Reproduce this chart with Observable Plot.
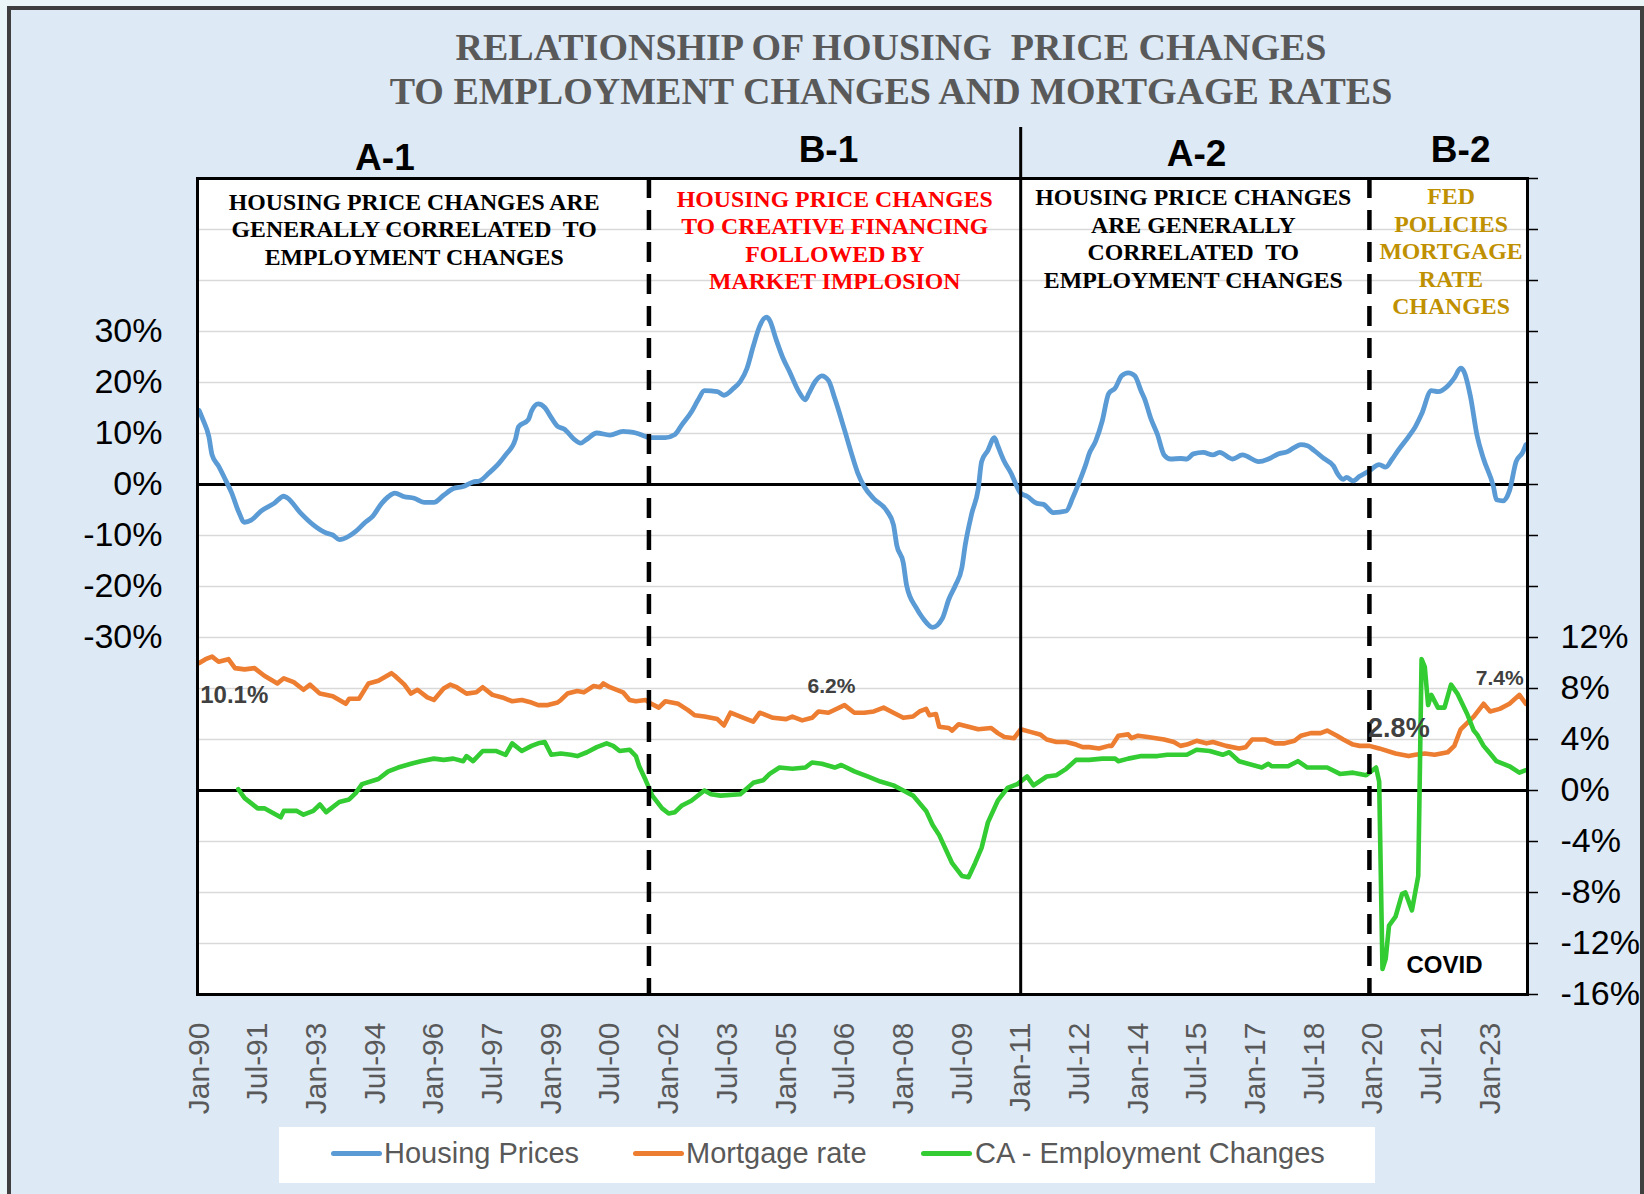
<!DOCTYPE html>
<html>
<head>
<meta charset="utf-8">
<script src="https://cdn.jsdelivr.net/npm/d3@7"></script>
<script src="https://cdn.jsdelivr.net/npm/@observablehq/plot@0.6"></script>
<style>
html,body{margin:0;padding:0;background:#eaf6f7;}
#page{position:relative;width:1644px;height:1194px;overflow:hidden;}
#panel{position:absolute;left:7px;top:6px;width:1637px;height:1220px;background:#dde9f5;border:4px solid #3f3f3f;box-sizing:border-box;}
.title{position:absolute;left:291px;width:1200px;text-align:center;font-family:"Liberation Serif","Times New Roman",serif;font-weight:bold;font-size:38px;line-height:44px;color:#595959;white-space:nowrap;}
#chart{position:absolute;left:0;top:0;}
#legend{position:absolute;left:279px;top:1127px;width:1096px;height:56px;background:#ffffff;}
.sw{position:absolute;top:24px;height:5px;border-radius:3px;}
.lt{position:absolute;top:-2px;line-height:56px;font-family:"Liberation Sans",Arial,sans-serif;font-size:29px;color:#595959;white-space:nowrap;}
</style>
</head>
<body>
<div id="page">
  <div id="panel"></div>
  <div class="title" style="top:25px">RELATIONSHIP OF HOUSING&nbsp; PRICE CHANGES</div>
  <div class="title" style="top:69px">TO EMPLOYMENT CHANGES AND MORTGAGE RATES</div>
  <div id="chart"></div>
  <div id="legend"></div>
</div>
<script>
// ---------- DATA ----------
const housingPrices = [
["1990-01",14.5],["1990-02",12.9],["1990-04",9.4],["1990-05",5.8],["1990-07",3.6],["1990-09",1.0],["1990-11",-1.7],
["1991-01",-5.2],["1991-03",-7.4],["1991-05",-7.0],["1991-08",-5.2],["1991-12",-3.7],["1992-03",-2.3],["1992-04",-2.6],
["1992-08",-5.5],["1992-12",-7.9],["1993-04",-9.5],["1993-06",-9.9],["1993-08",-10.8],["1993-11",-10.1],["1994-01",-9.2],
["1994-04",-7.4],["1994-06",-6.4],["1994-09",-3.7],["1994-11",-2.4],["1995-01",-1.7],["1995-04",-2.4],["1995-07",-2.7],
["1995-10",-3.5],["1996-01",-3.5],["1996-04",-2.1],["1996-07",-0.8],["1996-10",-0.4],["1997-01",0.5],["1997-03",0.7],
["1997-06",2.3],["1997-09",4.2],["1997-11",5.8],["1998-02",8.9],["1998-03",11.3],["1998-06",12.7],["1998-07",14.4],
["1998-09",15.8],["1998-11",15.1],["1999-01",13.1],["1999-03",11.4],["1999-05",10.9],["1999-08",8.9],["1999-10",8.1],
["1999-12",8.9],["2000-03",10.1],["2000-07",9.7],["2000-11",10.4],["2001-01",10.3],["2001-03",10.1],["2001-06",9.4],
["2001-07",9.2],["2001-12",9.2],["2002-03",9.8],["2002-05",11.6],["2002-08",14.2],["2002-10",16.5],["2002-12",18.4],
["2003-04",18.2],["2003-06",17.5],["2003-09",18.9],["2003-11",20.2],["2004-01",22.7],["2004-03",27.1],["2004-05",31.1],
["2004-07",32.8],["2004-08",32.2],["2004-10",28.4],["2004-12",24.9],["2005-02",22.2],["2005-05",18.2],["2005-07",16.6],
["2005-08",17.8],["2005-10",20.2],["2005-12",21.3],["2006-02",20.4],["2006-04",16.9],["2006-07",10.7],["2006-09",6.3],
["2006-11",2.3],["2007-01",-0.4],["2007-04",-2.8],["2007-08",-5.2],["2007-10",-7.9],["2007-11",-11.9],["2008-01",-15.4],
["2008-02",-19.8],["2008-05",-24.2],["2008-07",-26.2],["2008-10",-28.0],["2009-01",-26.2],["2009-03",-22.5],["2009-05",-19.8],
["2009-07",-16.3],["2009-08",-11.9],["2009-10",-5.7],["2009-12",-0.8],["2010-01",4.5],["2010-03",6.7],["2010-05",9.2],
["2010-06",7.6],["2010-08",4.5],["2010-10",2.3],["2011-01",-1.7],["2011-03",-2.3],["2011-06",-3.7],["2011-08",-3.9],
["2011-11",-5.5],["2012-03",-5.2],["2012-05",-2.6],["2012-07",0.5],["2012-09",4.0],["2012-10",6.0],["2012-12",8.5],
["2013-02",12.5],["2013-04",17.8],["2013-06",18.9],["2013-08",21.3],["2013-10",21.9],["2013-12",21.3],["2014-02",18.2],
["2014-03",16.9],["2014-05",12.9],["2014-07",9.8],["2014-09",5.8],["2014-11",5.0],["2015-02",5.1],["2015-04",5.0],
["2015-06",6.0],["2015-09",6.3],["2015-12",5.8],["2016-02",6.3],["2016-06",5.0],["2016-09",5.8],["2017-02",4.5],
["2017-05",5.0],["2017-08",6.0],["2017-11",6.5],["2018-01",7.3],["2018-03",7.8],["2018-05",7.6],["2018-07",6.7],
["2018-10",5.1],["2019-01",3.6],["2019-02",2.3],["2019-04",1.0],["2019-05",1.4],["2019-07",0.7],["2019-09",1.6],
["2019-12",2.7],["2020-03",3.9],["2020-05",3.4],["2020-07",5.0],["2020-09",6.9],["2020-12",9.4],["2021-02",11.3],
["2021-04",13.8],["2021-07",18.4],["2021-09",18.2],["2021-12",19.3],["2022-02",20.9],["2022-04",22.8],["2022-05",22.2],
["2022-07",17.3],["2022-09",9.6],["2022-11",5.0],["2023-02",-0.4],["2023-03",-3.0],["2023-05",-3.2],["2023-07",-1.2],
["2023-09",4.5],["2023-11",6.3],["2023-12",7.8]
];
const mortgageRate = [
["1990-01",10.0],["1990-03",10.3],["1990-05",10.5],["1990-07",10.1],["1990-10",10.3],["1990-12",9.6],["1991-03",9.5],
["1991-06",9.6],["1991-09",9.0],["1992-01",8.4],["1992-03",8.8],["1992-06",8.5],["1992-09",7.9],["1992-11",8.3],
["1993-02",7.6],["1993-06",7.4],["1993-10",6.8],["1993-11",7.2],["1994-02",7.2],["1994-05",8.4],["1994-08",8.6],
["1994-10",8.9],["1994-12",9.2],["1995-01",9.0],["1995-04",8.3],["1995-06",7.6],["1995-08",7.9],["1995-11",7.3],
["1996-01",7.1],["1996-04",8.0],["1996-06",8.3],["1996-08",8.1],["1996-11",7.6],["1997-02",7.7],["1997-04",8.1],
["1997-07",7.5],["1997-10",7.3],["1998-01",7.0],["1998-04",7.1],["1998-07",6.9],["1998-09",6.7],["1998-12",6.7],
["1999-03",6.9],["1999-04",7.1],["1999-06",7.6],["1999-09",7.8],["1999-11",7.7],["2000-02",8.2],["2000-04",8.1],
["2000-05",8.4],["2000-07",8.1],["2000-11",7.7],["2001-01",7.1],["2001-03",7.0],["2001-06",7.1],["2001-07",6.9],
["2001-10",6.5],["2001-12",7.0],["2002-04",6.8],["2002-07",6.3],["2002-09",5.9],["2002-12",5.8],["2003-04",5.6],
["2003-06",5.1],["2003-08",6.1],["2003-12",5.7],["2004-03",5.4],["2004-05",6.1],["2004-09",5.7],["2005-01",5.6],
["2005-03",5.8],["2005-06",5.5],["2005-09",5.7],["2005-11",6.2],["2006-02",6.1],["2006-07",6.7],["2006-10",6.1],
["2007-01",6.1],["2007-04",6.2],["2007-07",6.5],["2007-10",6.1],["2008-01",5.7],["2008-04",5.8],["2008-06",6.2],
["2008-08",6.4],["2008-09",5.9],["2008-11",6.0],["2008-12",5.0],["2009-03",4.9],["2009-04",4.7],["2009-06",5.2],
["2009-09",5.0],["2009-12",4.8],["2010-04",4.9],["2010-06",4.5],["2010-08",4.2],["2010-11",4.1],["2011-01",4.8],
["2011-04",4.6],["2011-07",4.4],["2011-09",4.0],["2011-12",3.8],["2012-03",3.8],["2012-06",3.6],["2012-08",3.4],
["2012-10",3.4],["2013-01",3.3],["2013-04",3.5],["2013-05",3.5],["2013-07",4.3],["2013-10",4.4],["2013-11",4.1],
["2014-01",4.3],["2014-04",4.2],["2014-09",4.0],["2014-12",3.8],["2015-02",3.5],["2015-04",3.6],["2015-07",3.9],
["2015-10",3.7],["2015-12",3.8],["2016-04",3.5],["2016-08",3.3],["2016-10",3.4],["2016-12",4.0],["2017-04",4.0],
["2017-07",3.7],["2017-10",3.7],["2018-01",3.9],["2018-03",4.3],["2018-06",4.5],["2018-09",4.5],["2018-11",4.7],
["2019-02",4.3],["2019-04",4.0],["2019-07",3.6],["2019-09",3.5],["2019-12",3.5],["2020-03",3.3],["2020-08",2.9],
["2020-12",2.7],["2021-02",2.8],["2021-05",2.9],["2021-08",2.8],["2021-12",3.0],["2022-02",3.5],["2022-04",4.8],
["2022-08",5.8],["2022-11",6.8],["2023-01",6.2],["2023-04",6.4],["2023-07",6.8],["2023-10",7.5],["2023-12",6.8]
];
const employmentChanges = [
["1991-01",0.1],["1991-03",-0.6],["1991-07",-1.4],["1991-09",-1.4],["1992-02",-2.1],["1992-03",-1.6],["1992-07",-1.6],
["1992-09",-1.9],["1992-12",-1.6],["1993-02",-1.1],["1993-04",-1.7],["1993-08",-0.9],["1993-11",-0.7],["1994-01",-0.2],
["1994-03",0.5],["1994-08",0.9],["1994-11",1.5],["1995-02",1.8],["1995-06",2.1],["1995-09",2.3],["1996-01",2.5],
["1996-04",2.4],["1996-07",2.5],["1996-10",2.3],["1996-11",2.7],["1997-01",2.3],["1997-04",3.1],["1997-08",3.1],
["1997-11",2.8],["1998-01",3.7],["1998-04",3.1],["1998-07",3.5],["1998-09",3.7],["1998-11",3.8],["1999-01",2.8],
["1999-04",2.9],["1999-07",2.8],["1999-09",2.7],["1999-12",3.0],["2000-03",3.4],["2000-06",3.7],["2000-08",3.5],
["2000-10",3.1],["2001-01",3.2],["2001-03",2.7],["2001-04",1.9],["2001-06",0.8],["2001-08",-0.4],["2001-11",-1.4],
["2002-01",-1.8],["2002-03",-1.7],["2002-05",-1.2],["2002-08",-0.8],["2002-12",0.0],["2003-02",-0.3],["2003-05",-0.4],
["2003-11",-0.3],["2004-03",0.6],["2004-06",0.8],["2004-08",1.3],["2004-11",1.8],["2005-03",1.7],["2005-07",1.8],
["2005-09",2.2],["2005-12",2.1],["2006-04",1.8],["2006-06",2.0],["2006-10",1.5],["2007-02",1.1],["2007-06",0.7],
["2007-10",0.4],["2008-01",0.0],["2008-04",-0.4],["2008-08",-1.6],["2008-10",-2.7],["2008-12",-3.5],["2009-04",-5.7],
["2009-07",-6.7],["2009-09",-6.8],["2009-11",-5.7],["2010-01",-4.5],["2010-03",-2.5],["2010-06",-0.8],["2010-09",0.2],
["2010-12",0.5],["2011-03",1.1],["2011-05",0.4],["2011-09",1.1],["2011-12",1.2],["2012-03",1.7],["2012-06",2.4],
["2012-10",2.4],["2013-02",2.5],["2013-06",2.5],["2013-07",2.3],["2013-10",2.5],["2014-02",2.7],["2014-07",2.7],
["2014-10",2.8],["2015-04",2.8],["2015-07",3.2],["2015-11",3.1],["2016-03",2.8],["2016-05",3.0],["2016-08",2.3],
["2017-03",1.8],["2017-05",2.1],["2017-06",1.9],["2017-11",1.9],["2018-02",2.3],["2018-05",1.8],["2018-11",1.8],
["2019-03",1.3],["2019-07",1.4],["2019-11",1.2],["2020-02",1.8],["2020-03",0.7],["2020-04",-14.0],["2020-05",-13.2],
["2020-06",-10.6],["2020-08",-9.9],["2020-10",-8.1],["2020-11",-8.0],["2021-01",-9.4],["2021-03",-6.7],["2021-04",10.3],
["2021-05",9.7],["2021-06",6.7],["2021-07",7.5],["2021-09",6.5],["2021-11",6.5],["2022-01",8.3],["2022-03",7.6],
["2022-06",6.0],["2022-08",4.7],["2022-09",4.4],["2022-11",3.5],["2023-01",2.9],["2023-03",2.3],["2023-07",1.9],
["2023-10",1.4],["2023-12",1.6]
];
const xTickDates = ["1990-01","1991-07","1993-01","1994-07","1996-01","1997-07","1999-01","2000-07","2002-01","2003-07",
  "2005-01","2006-07","2008-01","2009-07","2011-01","2012-07","2014-01","2015-07","2017-01","2018-07","2020-01","2021-07","2023-01"];
const leftTicks = [-30,-20,-10,0,10,20,30];
const rightTicks = [-16,-12,-8,-4,0,4,8,12];
const seriesNames = ["Housing Prices","Mortgage rate","CA - Employment Changes"];
const seriesColors = ["#5b9bd5","#ed7d31","#33cc33"];
const solidDivider = "2011-01";
const dashedDividers = ["2001-07","2019-12"];
const sectionLabels = [
  {date:"1994-10", y:64, text:"A-1"},
  {date:"2006-02", y:65.5, text:"B-1"},
  {date:"2015-07", y:64.7, text:"A-2"},
  {date:"2022-04", y:65.5, text:"B-2"}
];
const boxNotes = [
  {date:"1995-07", y:50.2, color:"#000000", text:"HOUSING PRICE CHANGES ARE\nGENERALLY CORRELATED\u00a0 TO\nEMPLOYMENT CHANGES"},
  {date:"2006-04", y:48.1, color:"#ff0000", text:"HOUSING PRICE CHANGES\nTO CREATIVE FINANCING\nFOLLOWED BY\nMARKET IMPLOSION"},
  {date:"2015-06", y:48.4, color:"#000000", text:"HOUSING PRICE CHANGES\nARE GENERALLY\nCORRELATED\u00a0 TO\nEMPLOYMENT CHANGES"},
  {date:"2022-01", y:45.9, color:"#bf9000", text:"FED\nPOLICIES\nMORTGAGE\nRATE\nCHANGES"}
];
// data labels, positioned in right-axis units
const startLabel = {date:"1990-01", r:7.5, text:"10.1%"};
const rateLabels = [
  {date:"2006-03", r:8.2, size:21, text:"6.2%"},
  {date:"2020-09", r:4.9, size:27, text:"2.8%"},
  {date:"2023-04", r:8.8, size:21, text:"7.4%"}
];
const covidLabel = {date:"2021-11", r:-13.7, text:"COVID"};

// ---------- BUILD ----------
const parse = d3.utcParse("%Y-%m");
const toLeft = r => 2.5 * r - 60;   // right-axis value -> left-axis scale
const fromLeft = v => Math.round((v + 60) / 2.5);

const housing = housingPrices.map(([d, v]) => ({date: parse(d), y: v}));
const mortgage = mortgageRate.map(([d, v]) => ({date: parse(d), y: toLeft(v)}));
const employment = employmentChanges.map(([d, v]) => ({date: parse(d), y: toLeft(v)}));

const W = 1644, H = 1125;
const sans = "Liberation Sans, Arial, sans-serif";
const plot = Plot.plot({
  width: W, height: H,
  marginLeft: 197, marginRight: 117, marginTop: 178, marginBottom: H - 994,
  style: {background: "transparent", overflow: "visible", fontFamily: sans, color: "#000"},
  x: {type: "utc", domain: [Date.UTC(1989, 11, 16), Date.UTC(2023, 11, 16)], label: null},
  y: {domain: [-100, 60], label: null},
  marks: [
    Plot.frame({fill: "#ffffff", stroke: null}),
    Plot.gridY(d3.range(-100, 61, 10), {stroke: "#d9d9d9", strokeOpacity: 1, strokeWidth: 1.5}),
    Plot.axisY(leftTicks, {anchor: "left", label: null, tickSize: 0, tickPadding: 35, fontSize: 34, tickFormat: d => d + "%", color: "#000"}),
    Plot.axisY(d3.range(-16, 49, 4).map(toLeft), {anchor: "right", label: null, tickSize: 10, tickPadding: 23, fontSize: 34,
      tickFormat: v => rightTicks.includes(fromLeft(v)) ? fromLeft(v) + "%" : "", color: "#000", strokeWidth: 1.5}),
    Plot.axisX(xTickDates.map(parse), {anchor: "bottom", label: null, tickSize: 0, tickPadding: 28, tickRotate: -90, fontSize: 30,
      tickFormat: d3.utcFormat("%b-%y"), color: "#595959"}),
    Plot.ruleY([0, toLeft(0)], {stroke: "#000", strokeWidth: 3}),
    Plot.line(housing, {x: "date", y: "y", stroke: seriesColors[0], strokeWidth: 4.8, strokeLinejoin: "round", curve: "monotone-x"}),
    Plot.line(mortgage, {x: "date", y: "y", stroke: seriesColors[1], strokeWidth: 4.6, strokeLinejoin: "round"}),
    Plot.line(employment, {x: "date", y: "y", stroke: seriesColors[2], strokeWidth: 4.6, strokeLinejoin: "round"}),
    Plot.ruleX([parse(solidDivider)], {y1: -100, y2: 70, stroke: "#000", strokeWidth: 3}),
    Plot.ruleX(dashedDividers.map(parse), {stroke: "#000", strokeWidth: 4.5, strokeDasharray: "20,12"}),
    Plot.frame({stroke: "#000", strokeWidth: 3}),
    Plot.text(sectionLabels, {x: d => parse(d.date), y: "y", text: "text", fontSize: 37, fontWeight: "bold",
      fontFamily: sans, fill: "#000"}),
    Plot.text(boxNotes, {x: d => parse(d.date), y: "y", text: "text", fill: "color", fontSize: 23.8, fontWeight: "bold",
      lineHeight: 1.16, fontFamily: "Liberation Serif, Times New Roman, serif"}),
    Plot.text([startLabel], {x: d => parse(d.date), y: d => toLeft(d.r), text: "text", fontSize: 24, textAnchor: "start", dx: 1,
      fontWeight: "bold", fill: "#404040", fontFamily: sans}),
    Plot.text(rateLabels, {x: d => parse(d.date), y: d => toLeft(d.r), text: "text", fontSize: "size",
      fontWeight: "bold", fill: "#404040", fontFamily: sans}),
    Plot.text([covidLabel], {x: d => parse(d.date), y: d => toLeft(d.r), text: "text", fontSize: 24, fontWeight: "bold",
      fill: "#000", fontFamily: sans})
  ]
});
document.getElementById("chart").appendChild(plot);

// legend
const legend = document.getElementById("legend");
const swLeft = [52, 354, 642], txtLeft = [105, 407, 696];
seriesNames.forEach((name, i) => {
  const sw = document.createElement("div");
  sw.className = "sw";
  sw.style.left = swLeft[i] + "px";
  sw.style.width = "51px";
  sw.style.background = seriesColors[i];
  legend.appendChild(sw);
  const t = document.createElement("div");
  t.className = "lt";
  t.style.left = txtLeft[i] + "px";
  t.textContent = name;
  legend.appendChild(t);
});
</script>
</body>
</html>
